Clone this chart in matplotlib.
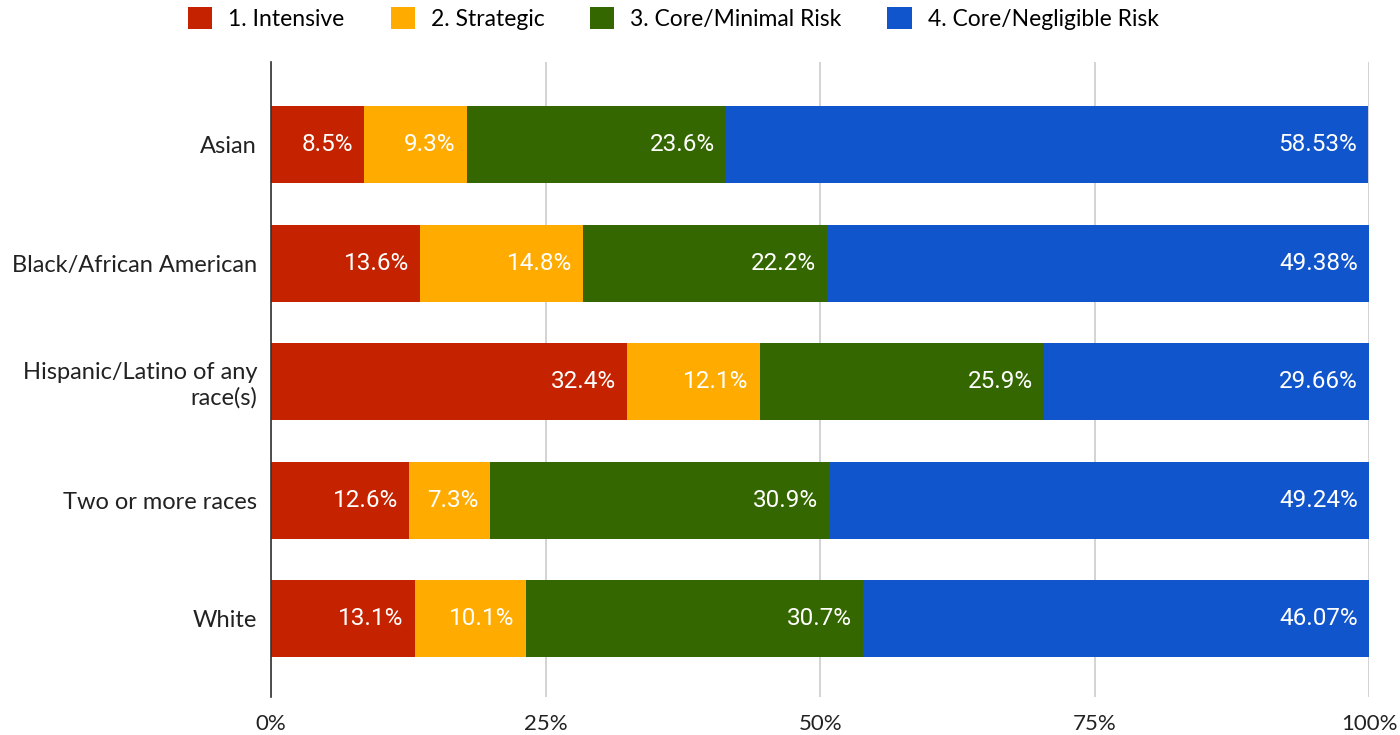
import numpy as np
import matplotlib
matplotlib.use("Agg")
import matplotlib.pyplot as plt

plt.rcParams['font.family'] = ['Lato', 'DejaVu Sans']

groups = ['Asian', 'Black/African American', 'Hispanic/Latino of any\nrace(s)',
          'Two or more races', 'White']
series = ['1. Intensive', '2. Strategic', '3. Core/Minimal Risk', '4. Core/Negligible Risk']
intensive = [8.5, 13.6, 32.4, 12.6, 13.1]
strategic = [9.3, 14.8, 12.1, 7.3, 10.1]
core_minimal = [23.6, 22.2, 25.9, 30.9, 30.7]
core_negligible = [58.53, 49.38, 29.66, 49.24, 46.07]
label_fmt = ['{:.1f}%', '{:.1f}%', '{:.1f}%', '{:.2f}%']
colors = ['#C52300', '#FFAB00', '#346700', '#1155CC']

data = [intensive, strategic, core_minimal, core_negligible]

fig = plt.figure(figsize=(14, 7.35), dpi=100)
ax = fig.add_axes([0.1936, 0.0517, 0.7844, 0.8639])

y = np.arange(len(groups))[::-1]
left = np.zeros(len(groups))
handles = []
for vals, name, col, fmt in zip(data, series, colors, label_fmt):
    vals = np.array(vals)
    h = ax.barh(y, vals, left=left, height=0.65, color=col, label=name, zorder=3)
    handles.append(h)
    for yi, l, v in zip(y, left, vals):
        ax.annotate(fmt.format(v), (min(l + v, 100), yi), xytext=(-8, 0), textcoords='offset points',
                    ha='right', va='center', color='white', fontsize=17.5,
                    family=['Roboto', 'DejaVu Sans'], zorder=4, annotation_clip=False)
    left = left + vals

ax.set_xlim(0, 100)
ax.set_ylim(-0.66, 4.696)
ax.set_xticks([0, 25, 50, 75, 100])
ax.set_xticklabels(['0%', '25%', '50%', '75%', '100%'], fontsize=16)
ax.set_yticks(y)
ax.set_yticklabels(groups, fontsize=17, ha='right')
ax.tick_params(axis='both', length=0, colors='#222222')
ax.tick_params(axis='y', pad=10)
ax.tick_params(axis='x', pad=12)
ax.grid(axis='x', color='#CCCCCC', linewidth=1.2, zorder=0)
for s in ['top', 'right', 'bottom']:
    ax.spines[s].set_visible(False)
ax.spines['left'].set_color('#333333')
ax.spines['left'].set_linewidth(1.2)
ax.spines['left'].set_zorder(5)

fig.legend(handles=handles, labels=series, loc='upper center', bbox_to_anchor=(0.481, 1.018),
           ncol=4, frameon=False, fontsize=16.5, handlelength=1.05, handleheight=1.05,
           columnspacing=2.0, handletextpad=0.7)

fig.savefig('out.png', dpi=100)
